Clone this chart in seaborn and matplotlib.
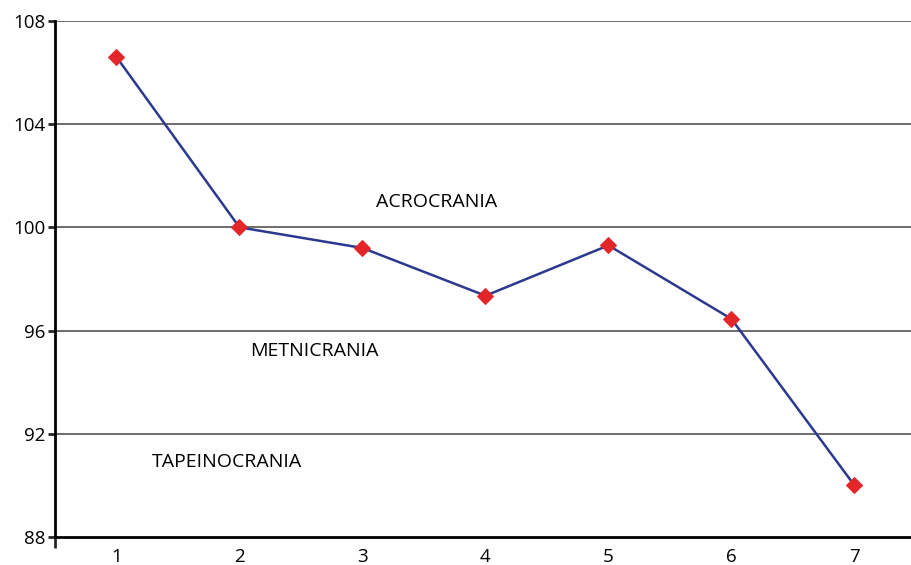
import pandas as pd
import numpy as np
import matplotlib.pyplot as plt
import seaborn as sns

# data
samples = [1, 2, 3, 4, 5, 6, 7]
index_vals = [106.6, 100.0, 99.2, 97.35, 99.3, 96.45, 90.0]
zone_names = ["ACROCRANIA", "METNICRANIA", "TAPEINOCRANIA"]
zone_x = [3.60, 2.61, 1.90]
zone_y = [101.0, 95.2, 90.9]
y_ticks = [88, 92, 96, 100, 104, 108]

sns.set_style("ticks")
plt.rcParams['font.family'] = ['Open Sans', 'DejaVu Sans']

df = pd.DataFrame({"sample": samples, "value": index_vals})

fig = plt.figure(figsize=(9.12, 5.65), dpi=100)
ax = fig.add_axes([0.0603, 0.0496, 0.944, 0.9134])

for t in y_ticks[1:]:
    ax.axhline(t, color="#444444", lw=1.1, zorder=1)

sns.lineplot(data=df, x="sample", y="value", ax=ax, color="#2B3990", lw=1.8,
             marker="D", markersize=8, markerfacecolor="#E3262A",
             markeredgecolor="#E3262A", zorder=3)

for name, x, y in zip(zone_names, zone_x, zone_y):
    ax.text(x, y, name, ha="center", va="center", fontsize=14, color="black")

ax.set_xlim(0.5, 7.5)
ax.set_ylim(88, 108)
ax.set_yticks(y_ticks)
ax.set_xticks(samples)
ax.set_xticks([0.5], minor=True)
ax.set_xlabel("")
ax.set_ylabel("")
ax.tick_params(axis="y", length=5, width=2, labelsize=13.5, pad=2, labelcolor="black")
ax.tick_params(axis="x", which="major", length=0, labelsize=13.5, pad=8, labelcolor="black")
ax.tick_params(axis="x", which="minor", length=8, width=2)
for s in ["top", "right"]:
    ax.spines[s].set_visible(False)
ax.spines["left"].set_linewidth(2)
ax.spines["bottom"].set_linewidth(2)
ax.spines["left"].set_color("black")
ax.spines["bottom"].set_color("black")

fig.savefig("out.png", dpi=100)
